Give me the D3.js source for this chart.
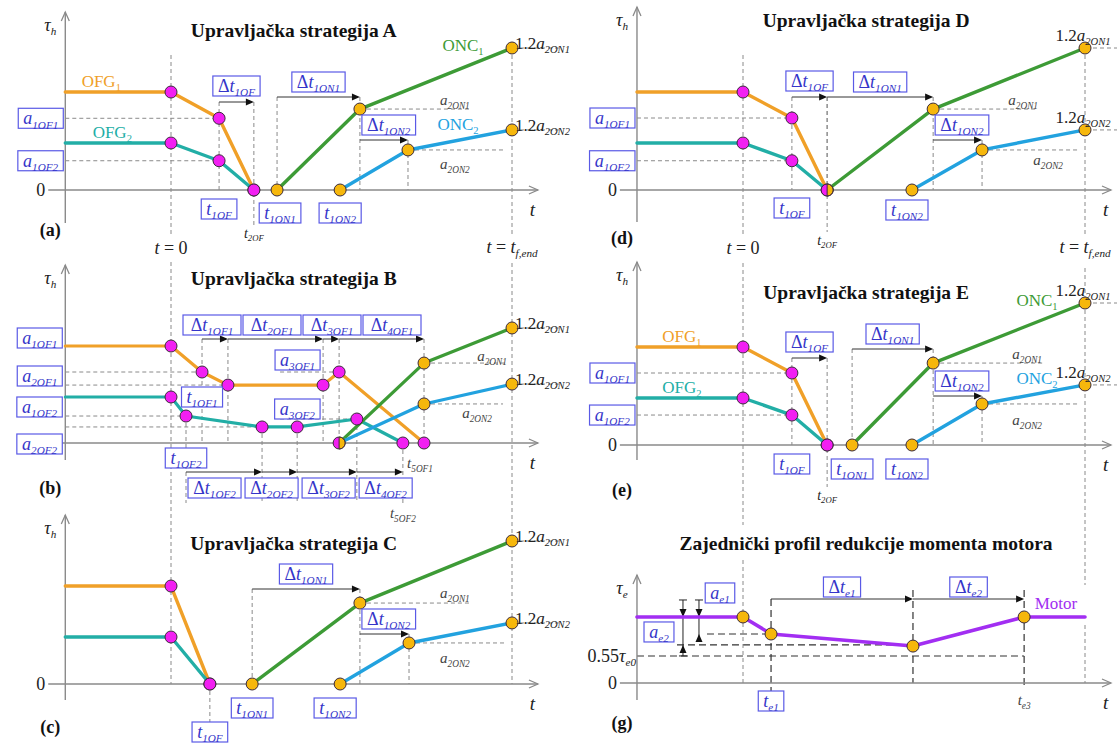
<!DOCTYPE html>
<html><head><meta charset="utf-8">
<script src="https://cdn.jsdelivr.net/npm/d3@7/dist/d3.min.js"></script>
<style>html,body{margin:0;padding:0;background:#fff}svg{display:block}
svg text{font-family:"Liberation Serif","Times New Roman","DejaVu Serif",serif;}</style>
</head><body>
<svg id="chart" width="1117" height="748"></svg>
<script>
// ================= DATA (time units, torque units) =================
const panelKeys   = ["a","b","c","d","e","g"];
const panelTitles = ["Upravljačka strategija A","Upravljačka strategija B","Upravljačka strategija C",
                     "Upravljačka strategija D","Upravljačka strategija E","Zajednički profil redukcije momenta motora"];
const panelTags   = ["(a)","(b)","(c)","(d)","(e)","(g)"];
const tStart = -3.1, tEnd = 10;

// Strategy A
const A_OFG1 = [[-3.1,6.9],[0,6.9],[1.41,5.05],[2.43,0]];
const A_OFG2 = [[-3.1,3.31],[0,3.31],[1.41,2.06],[2.43,0]];
const A_ONC1 = [[3.11,0],[5.54,5.7],[10,10]];
const A_ONC2 = [[4.96,0],[6.95,2.82],[10,4.23]];
// Strategy B
const B_OFG1 = [[-3.1,6.83],[0,6.83],[0.91,5.0],[1.67,4.08],[4.46,4.08],[4.93,5.0],[7.42,0]];
const B_OFG2 = [[-3.1,3.24],[0,3.24],[0.44,1.9],[2.67,1.13],[3.7,1.13],[5.45,1.69],[6.8,0]];
const B_ONC1 = [[4.93,0],[7.42,5.63],[10,8.1]];
const B_ONC2 = [[4.93,0],[7.42,2.75],[10,4.15]];
// Strategy C
const C_OFG1 = [[-3.1,6.9],[0,6.9],[1.14,0]];
const C_OFG2 = [[-3.1,3.31],[0,3.31],[1.14,0]];
const C_ONC1 = [[2.38,0],[5.54,5.7],[10,10.07]];
const C_ONC2 = [[4.96,0],[6.98,2.89],[10,4.3]];
// Strategy D
const D_OFG1 = [[-3.1,6.9],[0,6.9],[1.43,5.07],[2.46,0]];
const D_OFG2 = [[-3.1,3.31],[0,3.31],[1.43,2.06],[2.46,0]];
const D_ONC1 = [[2.46,0],[5.56,5.7],[10,10]];
const D_ONC2 = [[4.94,0],[6.99,2.82],[10,4.23]];
// Strategy E
const E_OFG1 = [[-3.1,6.9],[0,6.9],[1.43,5.07],[2.46,0]];
const E_OFG2 = [[-3.1,3.31],[0,3.31],[1.43,2.11],[2.46,0]];
const E_ONC1 = [[3.19,0],[5.56,5.77],[10,10]];
const E_ONC2 = [[4.94,0],[6.99,2.89],[10,4.23]];
// Engine torque profile
const G_MOTOR  = [[-3.1,4.65],[0,4.65],[0.82,3.45],[4.97,2.6],[8.22,4.65],[10,4.65]];
const G_LEVELS = [3.45, 2.68, 1.9];   // a_e1 level, a_e2 level, 0.55 tau_e0

// ================= LAYOUT =================
const FONT = "'Liberation Serif','Times New Roman','DejaVu Serif',serif";
const frames = {
  a:{x0:171,w:341,y0:190,axTop:178,axBot:33,titleY:30, tagY:230,zero:true},
  b:{x0:171,w:341,y0:443,axTop:178,axBot:17,titleY:278,tagY:488,zero:false},
  c:{x0:171,w:341,y0:684,axTop:169,axBot:16,titleY:543,tagY:727,zero:true},
  d:{x0:743,w:342,y0:190,axTop:183,axBot:32,titleY:20, tagY:238,zero:true},
  e:{x0:743,w:342,y0:445,axTop:183,axBot:15,titleY:292,tagY:490,zero:true},
  g:{x0:743,w:342,y0:683,axTop:108,axBot:17,titleY:543,tagY:723,zero:true}
};
const C = {axis:"#8a8a8a", dash:"#8a8a8a", orange:"#f0a028", teal:"#22aea6", green:"#3d9b36",
  blue:"#22a2df", mag:"#f21ff2", gold:"#f6b70c", purple:"#a22ef2", box:"#5a5ae6",
  boxText:"#3535c9", ink:"#222", ink2:"#444"};

const svg = d3.select("#chart");
const L = {};
["guides","axes","lines","marks","text"].forEach(k => L[k] = svg.append("g"));

const DT = s => [["Δ","n"],["t","i"],[s,"si"]];
const A  = s => [["a","i"],[s,"si"]];
const T  = s => [["t","i"],[s,"si"]];

function ln(layer,x1,y1,x2,y2,stroke,w,da){
  const l = layer.append("line").attr("x1",x1).attr("y1",y1).attr("x2",x2).attr("y2",y2)
    .attr("stroke",stroke).attr("stroke-width",w);
  if (da) l.attr("stroke-dasharray",da);
  return l;
}
const dashGray = {c:"#8a8a8a", w:1, da:"4,3"};
const dashDark = {c:"#333", w:1.2, da:"7,4"};
function dash(x1,y1,x2,y2,st){ st = st||dashGray; ln(L.guides,x1,y1,x2,y2,st.c,st.w,st.da); }
function arrowH(x1,x2,yy){
  ln(L.guides,x1,yy,x2-2,yy,"#333",1);
  L.guides.append("path").attr("d",`M${x2},${yy}L${x2-8},${yy-3.5}L${x2-8},${yy+3.5}Z`).attr("fill","#111");
}
function arrowV(xx,tip,dir){
  L.guides.append("path").attr("d",`M${xx},${tip}L${xx-3.5},${tip-dir*8}L${xx+3.5},${tip-dir*8}Z`).attr("fill","#111");
}
function rich(parent,parts,x,yc,size,color,anchor,weight){
  const t = parent.append("text").attr("x",x).attr("y",yc+size*0.34)
    .attr("text-anchor",anchor||"middle").attr("fill",color).attr("font-size",size)
    .style("font-family",FONT);
  if (weight) t.attr("font-weight",weight);
  let down = false;
  parts.forEach(([s,st])=>{
    const sub = st.includes("s");
    const ts = t.append("tspan").text(s).attr("font-style",st.includes("i")?"italic":"normal");
    if (sub) ts.attr("font-size",size*0.62);
    if (sub && !down){ ts.attr("dy",size*0.24); down = true; }
    else if (!sub && down){ ts.attr("dy",-size*0.24); down = false; }
  });
  return t;
}
function box(parts,x,yc,anchor,minW){
  const g = L.text.append("g");
  const t = rich(g,parts,x,yc,18,C.boxText,"middle");
  const bb = t.node().getBBox();
  const W = Math.max(bb.width+10, minW||0);
  let left = x - W/2;
  if (anchor==="end") left = x - W;
  if (anchor==="start") left = x;
  t.attr("x", left + W/2);
  g.insert("rect","text").attr("x",left).attr("y",yc-10).attr("width",W).attr("height",20)
    .attr("fill","#fff").attr("stroke",C.box).attr("stroke-width",1.2);
  return left + W;
}
function series(P,pts,color,w){
  L.lines.append("path").datum(pts)
    .attr("d", d3.line().x(d=>P.x(d[0])).y(d=>P.y(d[1])))
    .attr("fill","none").attr("stroke",color).attr("stroke-width",w||3.4)
    .attr("stroke-linejoin","round").attr("stroke-linecap","round");
}
function marks(P,pts,fill){
  L.marks.selectAll(null).data(pts).enter().append("circle")
    .attr("cx",d=>P.x(d[0])).attr("cy",d=>P.y(d[1])).attr("r",6)
    .attr("fill",fill).attr("stroke","#3a2a3a").attr("stroke-width",1);
}
function halfMark(P,pt,fill){
  const cx=P.x(pt[0]), cy=P.y(pt[1]), r=6;
  L.marks.append("path").attr("d",`M${cx},${cy-r}A${r},${r} 0 0 1 ${cx},${cy+r}Z`)
    .attr("fill",fill).attr("stroke","#3a2a3a").attr("stroke-width",1);
}
function setup(key){
  const i = panelKeys.indexOf(key), f = frames[key];
  const x = d3.scaleLinear().domain([0,tEnd]).range([f.x0,f.x0+f.w]);
  const y = d3.scaleLinear().domain([0,10]).range([f.y0,f.y0-142]);
  const ax = x(tStart), y0 = f.y0;
  ln(L.axes,ax,y0+f.axBot,ax,y0-f.axTop,C.axis,1.4);
  L.axes.append("path").attr("d",`M${ax-4},${y0-f.axTop+9}L${ax},${y0-f.axTop}L${ax+4},${y0-f.axTop+9}`)
    .attr("fill","none").attr("stroke",C.axis).attr("stroke-width",1.3);
  const xs = x(-3.6), xe = x(10.76);
  ln(L.axes,xs,y0,xe,y0,C.axis,1.4);
  L.axes.append("path").attr("d",`M${xe-9},${y0-4}L${xe},${y0}L${xe-9},${y0+4}`)
    .attr("fill","none").attr("stroke",C.axis).attr("stroke-width",1.3);
  if (f.zero) rich(L.text,[["0","n"]],xs-3,y0,18,C.ink,"end");
  rich(L.text,[["τ","i"],[key==="g"?"e":"h","si"]],ax-15,y0-f.axTop+13,18,C.ink);
  rich(L.text,[["t","i"]],x(10.6),y0+20,19,C.ink);
  rich(L.text,[[panelTitles[i],"n"]],x(3.6),f.titleY,19.5,"#111","middle","bold");
  rich(L.text,[[panelTags[i],"n"]],ax-15,f.tagY,18,"#111","middle","bold");
  return {x,y,ax,y0,f};
}
function endLabels(P,N1,N2,right){
  const xe = P.x(tEnd);
  [[N1,"2ON1"],[N2,"2ON2"]].forEach(([N,s])=>{
    const v = P.y(N[N.length-1][1]);
    dash(xe+8,v,xe+(right?34:48),v);
    const parts = [["1.2","n"],["a","i"],[s,"si"]];
    if (right) rich(L.text,parts,xe-2,v-13,17,C.ink,"middle");
    else rich(L.text,parts,xe+3,v-5,17,C.ink,"start");
  });
}

// ---------- standard panels A, D, E ----------
function stdPanel(key,F1,F2,N1,N2,o){
  const P = setup(key), {x,y,y0,ax} = P;
  const t1OF=F1[2][0], t2OF=F1[3][0], t1ON1=N1[0][0], tA1=N1[1][0], t1ON2=N2[0][0], tA2=N2[1][0];
  dash(ax,y(F1[2][1]),x(t1OF),y(F1[2][1]));
  dash(ax,y(F2[2][1]),x(t1OF),y(F2[2][1]));
  const yOF = y0+o.arrOF;
  dash(x(t1OF),yOF,x(t1OF),y0);
  dash(x(t2OF),yOF,x(t2OF),y0+o.t2OFy-8);
  arrowH(x(t1OF),x(t2OF),yOF);
  box(DT("1OF"),(x(t1OF)+x(t2OF))/2,yOF-16);
  box(A("1OF1"),ax-2,y(F1[2][1]),"end");
  box(A("1OF2"),ax-2,y(F2[2][1]),"end");
  box(T("1OF"),x(t1OF),y0+o.t1OFy);
  rich(L.text,T("2OF"),x(t2OF),y0+o.t2OFy,14,C.ink);
  const yON1 = y0+o.arrON1;
  dash(x(t1ON1),yON1,x(t1ON1),y0);
  dash(x(tA1),yON1,x(tA1),y0);
  arrowH(x(t1ON1),x(tA1),yON1);
  box(DT("1ON1"),(x(t1ON1)+x(tA1))/2,yON1-15);
  if (o.showT1ON1) box(T("1ON1"),x(t1ON1)+o.t1ON1dx,y0+o.tONy);
  dash(x(tA1),y(N1[1][1]),x(tA1)+o.a2on1Len,y(N1[1][1]));
  rich(L.text,A("2ON1"),x(tA1)+o.a2on1X,y(N1[1][1])-9,15,C.ink2);
  const yON2 = y0+o.arrON2;
  dash(x(tA2),yON2,x(tA2),y0);
  arrowH(x(tA1),x(tA2),yON2);
  box(DT("1ON2"),x(tA1)+2,yON2-15,"start");
  box(T("1ON2"),x(t1ON2)+o.t1ON2dx,y0+o.tONy);
  dash(x(tA2),y(N2[1][1]),x(tEnd)-7,y(N2[1][1]));
  rich(L.text,A("2ON2"),x(tA1)+o.a2on2X,y(N2[1][1])+o.a2on2dy,15,C.ink2);
  endLabels(P,N1,N2,o.right);
  if (o.names){
    const n = o.names;
    rich(L.text,[["OFG","n"],["1","sn"]],ax+n.f1x,y(F1[0][1])-11,17,C.orange);
    rich(L.text,[["OFG","n"],["2","sn"]],ax+n.f2x,y(F2[0][1])-11,17,C.teal);
    rich(L.text,[["ONC","n"],["1","sn"]],x(tEnd)+n.n1dx,y(N1[2][1])+n.n1dy,17,C.green);
    rich(L.text,[["ONC","n"],["2","sn"]],x(tEnd)+n.n2dx,y(N2[2][1])+n.n2dy,17,C.blue);
  }
  series(P,F1,C.orange); series(P,F2,C.teal); series(P,N1,C.green); series(P,N2,C.blue);
  marks(P,F1.slice(1),C.mag); marks(P,F2.slice(1),C.mag);
  if (N1[0][0]===t2OF){ halfMark(P,N1[0],C.gold); marks(P,N1.slice(1),C.gold); }
  else marks(P,N1,C.gold);
  marks(P,N2,C.gold);
  return P;
}

const PA = stdPanel("a",A_OFG1,A_OFG2,A_ONC1,A_ONC2,{arrOF:-88,arrON1:-93,arrON2:-50,t1OFy:19,t2OFy:43,tONy:23,
  showT1ON1:true,t1ON1dx:3,t1ON2dx:0,a2on1X:95,a2on1Len:110,a2on2X:95,a2on2dy:14,right:false,
  names:{f1x:36,f2x:47,n1dx:-49,n1dy:-3,n2dx:-54,n2dy:-6}});
const PD = stdPanel("d",D_OFG1,D_OFG2,D_ONC1,D_ONC2,{arrOF:-93,arrON1:-93,arrON2:-50,t1OFy:18,t2OFy:50,tONy:20,
  showT1ON1:false,t1ON2dx:-5,a2on1X:90,a2on1Len:105,a2on2X:115,a2on2dy:10,right:true,names:null});
const PE = stdPanel("e",E_OFG1,E_OFG2,E_ONC1,E_ONC2,{arrOF:-87,arrON1:-96,arrON2:-49,t1OFy:19,t2OFy:50,tONy:24,
  showT1ON1:true,t1ON1dx:0,t1ON2dx:-5,a2on1X:94,a2on1Len:109,a2on2X:94,a2on2dy:16,right:true,
  names:{f1x:45,f2x:45,n1dx:-48,n1dy:-3,n2dx:-48,n2dy:-7}});

// ---------- panel B ----------
(function(){
  const P = setup("b"), {x,y,y0,ax} = P;
  const F1 = B_OFG1, F2 = B_OFG2;
  dash(ax,y(F1[2][1]),x(F1[2][0]),y(F1[2][1]));
  dash(ax,y(F1[3][1]),x(F1[3][0]),y(F1[3][1]));
  dash(ax,y(F2[2][1]),x(F2[2][0]),y(F2[2][1]));
  dash(ax,y(F2[3][1]),x(F2[3][0]),y(F2[3][1]));
  dash(x(F1[4][0])-43,y(F1[5][1]),x(F1[5][0]),y(F1[5][1]));
  dash(x(F1[4][0])-43,y(F2[5][1]),x(F2[5][0]),y(F2[5][1]));
  const tTop = F1.slice(2).map(d=>d[0]);
  const yT = y0-104;
  tTop.forEach((t,i)=>{ dash(x(t),yT,x(t),y0+(i===4?8:0)); if(i>0) arrowH(x(tTop[i-1]),x(t),yT); });
  let left = x(F2[2][0])-3;
  ["1OF1","2OF1","3OF1","4OF1"].forEach(s=>{ left = box(DT(s),left,yT-14,"start",58)+2; });
  const tBot = F2.slice(2).map(d=>d[0]);
  const yB = y0+29;
  tBot.forEach((t,i)=>{ dash(x(t),y(F2[i+2][1]),x(t),y0+60); if(i>0) arrowH(x(tBot[i-1]),x(t),yB); });
  left = x(F2[2][0])+2;
  ["1OF2","2OF2","3OF2","4OF2"].forEach(s=>{ left = box(DT(s),left,y0+45,"start",52)+4; });
  box(A("1OF1"),ax-3,y0-105,"end");
  box(A("2OF1"),ax-3,y0-67,"end");
  box(A("1OF2"),ax-3,y0-36,"end");
  box(A("2OF2"),ax-3,y0+1,"end");
  box(A("3OF1"),x(F1[4][0])-3,y(F1[5][1])-12,"end");
  box(A("3OF2"),x(F1[4][0])-3,y(F2[5][1])-10,"end");
  box(T("1OF1"),x(F1[2][0]),y0-46);
  box(T("1OF2"),x(F2[2][0]),y0+15);
  rich(L.text,T("5OF1"),x(F1[6][0])-4,y0+20,15,C.ink2);
  rich(L.text,T("5OF2"),x(F2[6][0]),y0+70,15,C.ink2);
  const tA = B_ONC1[1][0];
  dash(x(tA),y(B_ONC1[1][1]),x(tA)+83,y(B_ONC1[1][1]));
  rich(L.text,A("2ON1"),x(tA)+68,y(B_ONC1[1][1])-7,15,C.ink2);
  dash(x(tA),y(B_ONC2[1][1]),x(tA)+79,y(B_ONC2[1][1]));
  rich(L.text,A("2ON2"),x(tA)+53,y(B_ONC2[1][1])+9,15,C.ink2);
  endLabels(P,B_ONC1,B_ONC2,false);
  series(P,F1,C.orange,3.2); series(P,F2,C.teal,3.2); series(P,B_ONC1,C.green,3.2); series(P,B_ONC2,C.blue,3.2);
  marks(P,F1.slice(1),C.mag); marks(P,F2.slice(1),C.mag);
  marks(P,[B_ONC1[0]],C.mag);
  halfMark(P,B_ONC1[0],C.gold);
  marks(P,B_ONC1.slice(1),C.gold); marks(P,B_ONC2.slice(1),C.gold);
})();

// ---------- panel C ----------
(function(){
  const P = setup("c"), {x,y,y0} = P;
  const tOF=C_OFG1[2][0], t1ON1=C_ONC1[0][0], tA1=C_ONC1[1][0], t1ON2=C_ONC2[0][0], tA2=C_ONC2[1][0];
  const v1=C_ONC1[1][1], v2=C_ONC2[1][1];
  dash(x(tOF),y0,x(tOF),y0+38);
  box(T("1OF"),x(tOF),y0+48);
  const yA = y0-95;
  dash(x(t1ON1),yA,x(t1ON1),y0); dash(x(tA1),yA,x(tA1),y0);
  arrowH(x(t1ON1),x(tA1),yA);
  box(DT("1ON1"),(x(t1ON1)+x(tA1))/2,yA-15);
  box(T("1ON1"),x(t1ON1),y0+24);
  dash(x(tA1),y(v1),x(tA1)+110,y(v1));
  rich(L.text,A("2ON1"),x(tA1)+95,y(v1)-10,15,C.ink2);
  const yB = y0-50;
  dash(x(tA2),yB,x(tA2),y0);
  arrowH(x(tA1),x(tA2),yB);
  box(DT("1ON2"),x(tA1)+2,yB-15,"start");
  box(T("1ON2"),x(t1ON2)-5,y0+24);
  dash(x(tA2),y(v2),x(tEnd)-7,y(v2));
  rich(L.text,A("2ON2"),x(tA1)+95,y(v2)+15,15,C.ink2);
  endLabels(P,C_ONC1,C_ONC2,false);
  series(P,C_OFG1,C.orange); series(P,C_OFG2,C.teal); series(P,C_ONC1,C.green); series(P,C_ONC2,C.blue);
  marks(P,C_OFG1.slice(1),C.mag); marks(P,C_OFG2.slice(1),C.mag);
  marks(P,C_ONC1,C.gold); marks(P,C_ONC2,C.gold);
})();

// ---------- panel G ----------
(function(){
  const P = setup("g"), {x,y,y0,ax} = P;
  const M = G_MOTOR, [l1,l2,l3] = G_LEVELS;
  const tB=M[2][0], tC=M[3][0], tD=M[4][0], top=M[1][1];
  dash(ax+70,y(l1),x(tB),y(l1),dashDark);
  dash(ax+40,y(l2),x(tC),y(l2),dashDark);
  dash(ax,y(l3),x(tD),y(l3),dashDark);
  const yA = y0-84;
  dash(x(tB),yA,x(tB),y0+9,dashDark);
  dash(x(tC),yA-9,x(tC),y0,dashDark);
  dash(x(tD),yA-9,x(tD),y0+6,dashDark);
  arrowH(x(tB),x(tC),yA); arrowH(x(tC),x(tD),yA);
  box(DT("e1"),(x(tB)+x(tC))/2,yA-12);
  box(DT("e2"),(x(tC)+x(tD))/2,yA-12);
  box(T("e1"),x(tB),y0+18);
  rich(L.text,T("e3"),x(tD),y0+17,15,C.ink2);
  const d1 = ax+46, d2 = ax+62;
  ln(L.guides,d1,y(top)-17,d1,y(l2)+11,"#222",1);
  ln(L.guides,d1-4,y(top)-17,d1+4,y(top)-17,"#222",1);
  ln(L.guides,d1-4,y(l2)+11,d1+4,y(l2)+11,"#222",1);
  arrowV(d1,y(top),1); arrowV(d1,y(l2),-1);
  ln(L.guides,d2,y(top)-17,d2,y(l1)+6,"#222",1);
  ln(L.guides,d2-4,y(top)-17,d2+4,y(top)-17,"#222",1);
  arrowV(d2,y(top),1); arrowV(d2,y(l1),-1);
  box(A("e1"),ax+83,y(top)-24);
  box(A("e2"),ax+22,y(top)+15);
  rich(L.text,[["0.55","n"],["τ","i"],["e0","si"]],ax-1,y(l3),18,C.ink,"end");
  rich(L.text,[["Motor","n"]],x(9.15),y(top)-14,17,C.purple);
  series(P,M,C.purple,3.6);
  marks(P,M.slice(1,-1),C.gold);
})();

// ---------- shared time markers t = 0 and t = t_f,end ----------
(function(){
  const lx0 = PA.x(0), lxe = PA.x(tEnd), rx0 = PD.x(0), rxe = PD.x(tEnd);
  const segs = [
    [lx0, [[55,236],[262,684]]],
    [lxe, [[PA.y(A_ONC1[2][1]),236],[263,684]]],
    [rx0, [[55,236],[263,525],[560,683]]],
    [rxe, [[PD.y(D_ONC1[2][1]),236],[268,585],[625,683]]]
  ];
  segs.forEach(([xx,ss])=>ss.forEach(([a,b])=>dash(xx,a,xx,b)));
  [lx0,rx0].forEach(xx=>rich(L.text,[["t","i"],[" = 0","n"]],xx,248,18,C.ink));
  [lxe,rxe].forEach(xx=>rich(L.text,[["t","i"],[" = ","n"],["t","i"],["f,end","si"]],xx,247,18,C.ink));
})();
</script>
</body></html>
